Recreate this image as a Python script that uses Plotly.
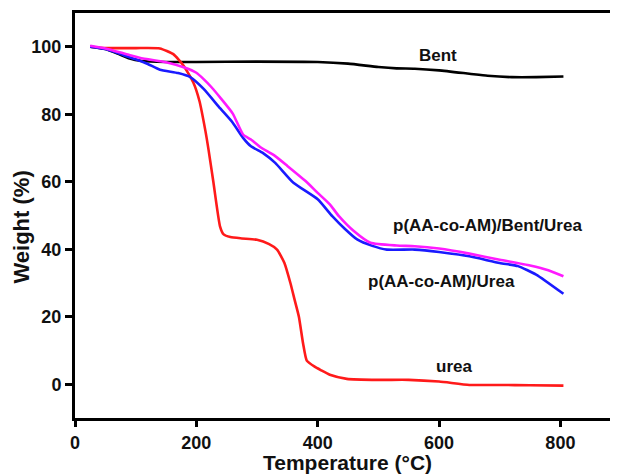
import plotly.graph_objects as go

# Bent
bent_x = [25, 50, 70, 90, 110, 150, 200, 300, 400, 450, 500, 530, 560, 600, 650, 680, 720, 760, 805]
bent_y = [100, 99.3, 98, 96.5, 95.8, 95.5, 95.5, 95.6, 95.5, 95, 94, 93.6, 93.5, 93, 92, 91.4, 91, 91, 91.2]

# urea
urea_x = [25, 50, 100, 140, 162, 179, 195, 205, 215, 220, 228, 239, 245, 256, 275, 300, 320, 333, 345, 355,
          362, 369, 376, 382, 395, 405, 420, 448, 500, 550, 600, 650, 700, 750, 805]
urea_y = [100, 99.6, 99.6, 99.5, 97.8, 94.4, 89.4, 84, 75, 69.6, 60, 46.8, 44.4, 43.6, 43.2, 42.8, 41.5, 39.9, 36, 30,
          25, 20, 12, 7, 5.2, 4.2, 2.8, 1.6, 1.3, 1.3, 0.8, -0.2, -0.2, -0.3, -0.4]

# p(AA-co-AM)/Bent/Urea
pbu_x = [25, 50, 85, 112, 150, 179, 200, 212, 225, 239, 260, 277, 290, 305, 330, 350, 380, 400, 420, 435,
         460, 487, 530, 560, 600, 650, 700, 750, 780, 805]
pbu_y = [100.3, 99.5, 97.8, 96.5, 95.4, 93.9, 92.3, 90.4, 88, 85, 80.2, 74, 72.5, 70.3, 67.6, 64.7, 60.2, 56.7, 53.3, 49.8,
         45.3, 41.9, 41.1, 40.9, 40.2, 38.7, 36.9, 35.2, 33.8, 32]

# p(AA-co-AM)/Urea
pu_x = [25, 50, 80, 100, 120, 140, 170, 190, 212, 239, 260, 277, 290, 310, 330, 360, 400, 424, 445, 465,
        490, 514, 560, 600, 650, 700, 730, 760, 805]
pu_y = [100, 99.3, 97.5, 96.3, 94.9, 93.2, 92.2, 91, 87.5, 81.8, 77.5, 73, 70.5, 68.5, 65.6, 59.7, 54.8, 49.8, 46, 42.9,
        41, 39.9, 39.9, 39.2, 37.9, 35.9, 35, 32.5, 26.8]

labels = ["Bent", "p(AA-co-AM)/Bent/Urea", "p(AA-co-AM)/Urea", "urea"]
label_x = [599, 680, 604, 624]
label_y = [97.5, 47, 30.5, 5.2]

x_ticks = [0, 200, 400, 600, 800]
y_ticks = [0, 20, 40, 60, 80, 100]

fig = go.Figure()
series = [(bent_x, bent_y, "#000000", "Bent"),
          (urea_x, urea_y, "#ff1a1a", "urea"),
          (pu_x, pu_y, "#1a1aff", "p(AA-co-AM)/Urea"),
          (pbu_x, pbu_y, "#ff1aff", "p(AA-co-AM)/Bent/Urea")]
for xs, ys, c, n in series:
    fig.add_trace(go.Scatter(x=xs, y=ys, mode="lines", name=n,
                             line=dict(color=c, width=2.6, shape="spline", smoothing=0.5)))

for t, lx, ly in zip(labels, label_x, label_y):
    fig.add_annotation(x=lx, y=ly, text=t, showarrow=False, xref="x", yref="y",
                       font=dict(family="Liberation Sans", size=17, color="#111111", weight="bold"))

fig.add_annotation(x=0.505, y=-0.109, xref="paper", yref="paper",
                   text="Temperature (°C)",
                   showarrow=False, xanchor="center", yanchor="middle", borderpad=0,
                   font=dict(family="Liberation Sans", size=21, color="#111111", weight="bold"))
fig.add_annotation(x=-0.0987, y=0.472, xref="paper", yref="paper", text="Weight (%)", textangle=-90,
                   showarrow=False, xanchor="center", yanchor="middle",
                   font=dict(family="Liberation Sans", size=22, color="#111111", weight="bold"))

fig.update_layout(
    width=618, height=474,
    margin=dict(l=67, r=11, t=5, b=64),
    plot_bgcolor="white", paper_bgcolor="white",
    showlegend=False,
    font=dict(family="Liberation Sans", color="#111111"),
)
fig.update_xaxes(range=[0, 890], tickvals=x_ticks, ticks="outside", ticklen=6, tickwidth=2.5,
                 tickcolor="black", showline=True, linewidth=3, linecolor="black", mirror=True,
                 showgrid=False, zeroline=False, automargin=False,
                 tickfont=dict(size=18, weight="bold"))
fig.update_yaxes(range=[-10, 110], tickvals=y_ticks, ticks="outside", ticklen=7, tickwidth=2.5,
                 tickcolor="black", showline=True, linewidth=3, linecolor="black", mirror=True,
                 showgrid=False, zeroline=False, automargin=False,
                 tickfont=dict(size=18, weight="bold"))

fig.write_html("out.html")
